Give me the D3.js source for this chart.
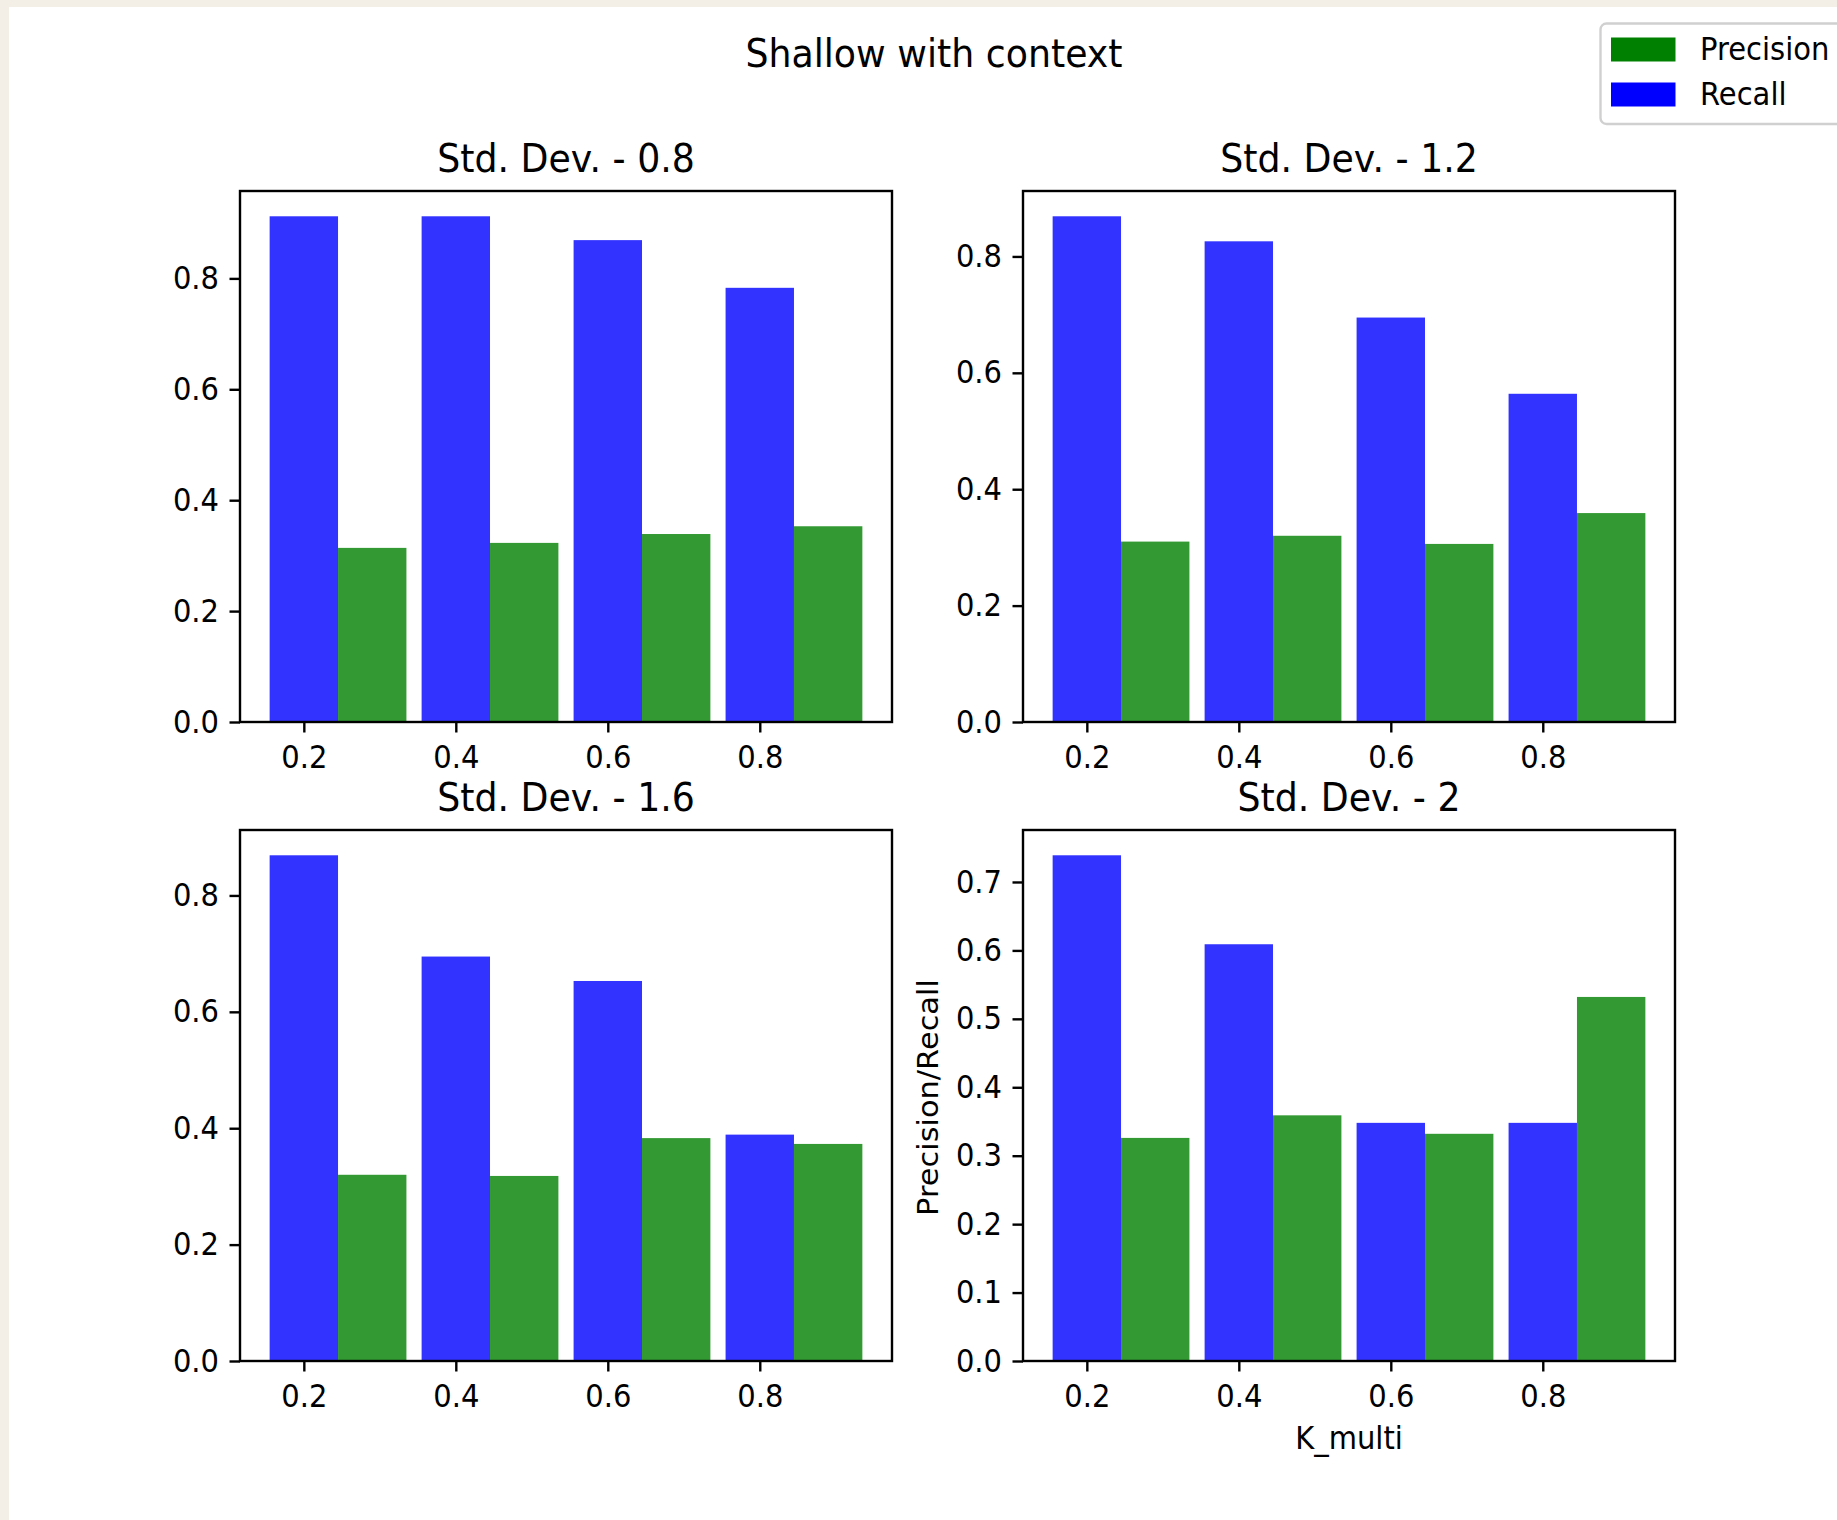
<!DOCTYPE html>
<html><head><meta charset="utf-8">
<script src="https://cdn.jsdelivr.net/npm/d3@7"></script>
<style>
html,body{margin:0;padding:0;background:#f3efe6;}
svg{display:block;}
text{font-family:"DejaVu Sans",sans-serif;fill:#000;}
</style></head><body>
<svg id="chart" width="1837" height="1520"></svg>
<script>
// ---- data ----
const categories = [0.2, 0.4, 0.6, 0.8];
const panelTitles = ["Std. Dev. - 0.8", "Std. Dev. - 1.2", "Std. Dev. - 1.6", "Std. Dev. - 2"];
const recall08    = [0.912, 0.912, 0.869, 0.783];
const precision08 = [0.314, 0.323, 0.339, 0.353];
const recall12    = [0.869, 0.826, 0.695, 0.564];
const precision12 = [0.310, 0.320, 0.306, 0.359];
const recall16    = [0.869, 0.695, 0.653, 0.389];
const precision16 = [0.320, 0.318, 0.383, 0.373];
const recall20    = [0.739, 0.609, 0.348, 0.348];
const precision20 = [0.326, 0.359, 0.332, 0.532];
const yTicks08 = [0.0, 0.2, 0.4, 0.6, 0.8];
const yTicks12 = [0.0, 0.2, 0.4, 0.6, 0.8];
const yTicks16 = [0.0, 0.2, 0.4, 0.6, 0.8];
const yTicks20 = [0.0, 0.1, 0.2, 0.3, 0.4, 0.5, 0.6, 0.7];
const seriesNames = ["Precision", "Recall"];
const barWidth = 0.09;

// ---- layout ----
const svg = d3.select("#chart");
svg.append("rect").attr("x", 9).attr("y", 7).attr("width", 1837 - 9).attr("height", 1520 - 7).attr("fill", "#ffffff");

const SY = 1.08; // glyphs in the reference are slightly taller than wide
function stretch(sel) {
  sel.each(function () {
    const t = d3.select(this);
    const x = +t.attr("x") || 0, y = +t.attr("y") || 0;
    t.attr("x", null).attr("y", null).attr("transform", `translate(${x},${y}) scale(1,${SY})`);
  });
}

const panels = [
  {title: panelTitles[0], recall: recall08, precision: precision08, ticks: yTicks08, left: 240, top: 191},
  {title: panelTitles[1], recall: recall12, precision: precision12, ticks: yTicks12, left: 1023, top: 191},
  {title: panelTitles[2], recall: recall16, precision: precision16, ticks: yTicks16, left: 240, top: 830},
  {title: panelTitles[3], recall: recall20, precision: precision20, ticks: yTicks20, left: 1023, top: 830, ylabel: "Precision/Recall", xlabel: "K_multi"}
];
const W = 652, H = 531;
const blue = "#3333ff", green = "#339933";
const tickFont = 29, titleFont = 36.3;

panels.forEach(p => {
  const g = svg.append("g").attr("transform", `translate(${p.left},${p.top})`);
  const lo = categories[0] - barWidth / 2, hi = categories[categories.length - 1] + barWidth * 1.5;
  const m = (hi - lo) * 0.05;
  const x = d3.scaleLinear().domain([lo - m, hi + m]).range([0, W]);
  const ymax = d3.max(p.recall.concat(p.precision)) * 1.05;
  const y = d3.scaleLinear().domain([0, ymax]).range([H, 0]);

  g.selectAll("rect.rec").data(categories).enter().append("rect")
    .attr("x", (c) => x(c - barWidth / 2))
    .attr("width", (c) => x(c + barWidth / 2) - x(c - barWidth / 2))
    .attr("y", (c, i) => y(p.recall[i]))
    .attr("height", (c, i) => H - y(p.recall[i]))
    .attr("fill", blue);
  g.selectAll("rect.pre").data(categories).enter().append("rect")
    .attr("x", (c) => x(c + barWidth / 2))
    .attr("width", (c) => x(c + barWidth * 1.5) - x(c + barWidth / 2))
    .attr("y", (c, i) => y(p.precision[i]))
    .attr("height", (c, i) => H - y(p.precision[i]))
    .attr("fill", green);

  const xa = g.append("g").attr("transform", `translate(0,${H})`)
    .call(d3.axisBottom(x).tickValues(categories).tickFormat(d3.format(".1f")).tickSize(10.5).tickPadding(9));
  const ya = g.append("g")
    .call(d3.axisLeft(y).tickValues(p.ticks).tickFormat(d3.format(".1f")).tickSize(10.5).tickPadding(10.5));
  [xa, ya].forEach(a => {
    a.select(".domain").remove();
    a.selectAll("line").attr("stroke", "#000").attr("stroke-width", 2.4);
    a.selectAll("text").attr("font-size", tickFont).attr("font-family", "DejaVu Sans").attr("fill", "#000");
  });
  xa.selectAll("text").attr("y", 46).attr("dy", null);
  stretch(xa.selectAll("text"));
  stretch(ya.selectAll("text"));

  g.append("rect").attr("x", 0).attr("y", 0).attr("width", W).attr("height", H)
    .attr("fill", "none").attr("stroke", "#000").attr("stroke-width", 2.4);

  stretch(g.append("text").attr("x", W / 2).attr("y", -19).attr("text-anchor", "middle")
    .attr("font-size", titleFont).text(p.title));

  if (p.ylabel) {
    g.append("text").attr("transform", `translate(${-85},${H / 2 + 2}) rotate(-90) scale(1.05,1)`)
      .attr("text-anchor", "middle").attr("font-size", tickFont).text(p.ylabel);
  }
  if (p.xlabel) {
    stretch(g.append("text").attr("x", W / 2).attr("y", H + 88).attr("text-anchor", "middle")
      .attr("font-size", tickFont).text(p.xlabel));
  }
});

// suptitle
stretch(svg.append("text").attr("x", 934).attr("y", 67).attr("text-anchor", "middle")
  .attr("font-size", titleFont).text("Shallow with context"));

// legend
const lg = svg.append("g");
lg.append("rect").attr("x", 1600.5).attr("y", 23.5).attr("width", 300).attr("height", 100.5).attr("rx", 6)
  .attr("fill", "#ffffff").attr("stroke", "#d0d0d0").attr("stroke-width", 2.4);
const legendColors = ["#008000", "#0000ff"];
seriesNames.forEach((n, i) => {
  lg.append("rect").attr("x", 1611).attr("y", 37.5 + i * 45).attr("width", 64.5).attr("height", 24).attr("fill", legendColors[i]);
  stretch(lg.append("text").attr("x", 1700).attr("y", 60 + i * 45).attr("font-size", tickFont).text(n));
});
</script>
</body></html>
